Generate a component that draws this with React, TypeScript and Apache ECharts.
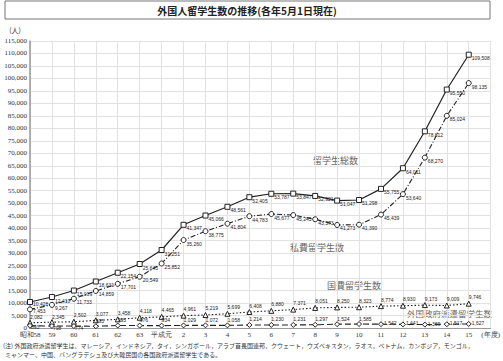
import React, { useEffect, useRef } from "react";
import * as echarts from "echarts";

const categories = ["昭和58", "59", "60", "61", "62", "63", "平成元", "2", "3", "4", "5", "6", "7", "8", "9", "10", "11", "12", "13", "14", "15", "(年度)"];
const totalValues = [10428, 12410, 15009, 18631, 22154, 25643, 31251, 41347, 45066, 48561, 52405, 53787, 53847, 52921, 51047, 51298, 55755, 64011, 78812, 95550, 109508];
const privateValues = [7453, 9267, 11733, 14859, 17701, 20549, 25852, 35260, 38775, 41804, 44783, 45677, 45245, 43573, 41273, 41390, 45439, 53640, 68270, 85024, 98135];
const govValues = [2082, 2345, 2502, 3077, 3458, 4118, 4465, 4961, 5219, 5699, 6408, 6880, 7371, 8051, 8250, 8323, 8774, 8930, 9173, 9009, 9746];
const foreignGovValues = [893, 798, 774, 695, 995, 976, 934, 1029, 1072, 1058, 1214, 1230, 1231, 1297, 1524, 1585, 1542, 1441, 1369, 1517, 1627];

const seriesNames = ["留学生総数", "私費留学生数", "国費留学生数", "外国政府派遣留学生数"];
const titleText = "外国人留学生数の推移(各年5月1日現在)";
const unitText = "(人)";
const noteLine1 = "(注) 外国政府派遣留学生は、マレーシア，インドネシア，タイ，シンガポール，アラブ首長国連邦，クウェート，ウズベキスタン，ラオス，ベトナム，カンボジア，モンゴル，";
const noteLine2 = "ミャンマー、中国、バングラデシュ及び大韓民国の各国政府派遣留学生である。";

const fmt = (v: number) => v.toLocaleString("en-US");

export default function App() {
  const ref = useRef<HTMLDivElement>(null);
  useEffect(() => {
    if (!ref.current) return;
    const chart = echarts.init(ref.current, null, { renderer: "svg" });
    const labelBase = {
      show: true,
      fontSize: 5,
      fontFamily: "Liberation Sans",
      color: "#222",
      formatter: (p: any) => fmt(p.value),
    };
    const mk = (name: string, data: any[], symbol: string, lineType: any, labelPos: any, width = 1.1) => ({
      name,
      type: "line",
      data,
      symbol,
      symbolSize: 5,
      showAllSymbol: true,
      lineStyle: { color: "#222", width, type: lineType },
      itemStyle: { color: "#fff", borderColor: "#222", borderWidth: 1 },
      label: { ...labelBase, position: labelPos },
      z: 3,
    });
    const totalData = totalValues.map((v, i) => (i === 0 ? { value: v, label: { position: [6, 3] } } : { value: v }));
    const privateData = privateValues.map((v, i) => (i === 0 ? { value: v, label: { position: [6, 2] } } : { value: v }));
    const govData = govValues.map((v, i) => (i < 2 ? { value: v, label: { position: [3, -5] } } : { value: v }));
    const foreignData = foreignGovValues.map((v, i) => {
      if (i < 3) return { value: v, label: { position: [4, 2] } };
      if (i >= 16) return { value: v, label: { position: [6, -0.5] } };
      return { value: v };
    });
    chart.setOption({
      animation: false,
      backgroundColor: "#fff",
      grid: { left: 30, right: 11, top: 41, bottom: 33, containLabel: false },
      xAxis: {
        type: "category",
        data: categories,
        boundaryGap: false,
        axisLine: { lineStyle: { color: "#999" } },
        axisTick: { show: false },
        axisLabel: { fontSize: 7, color: "#333", fontFamily: "Liberation Serif", margin: 3.5, interval: 0 },
        splitLine: { show: true, lineStyle: { color: "#e2e2e2", width: 1 } },
      },
      yAxis: {
        type: "value",
        min: 0,
        max: 115000,
        interval: 5000,
        axisLine: { show: true, lineStyle: { color: "#999", width: 1.5 } },
        axisTick: { show: false },
        axisLabel: { fontSize: 7, color: "#333", fontFamily: "Liberation Serif", margin: 3, formatter: (v: number) => fmt(v) },
        splitLine: { show: true, lineStyle: { color: "#e2e2e2", width: 1 } },
      },
      series: [
        mk(seriesNames[0], totalData, "rect", "solid", [6, 4], 1.2),
        mk(seriesNames[1], privateData, "circle", [5, 2, 1, 2], [6, 4]),
        mk(seriesNames[2], govData, "triangle", [1.5, 2], [3, -6]),
        mk(seriesNames[3], foreignData, "diamond", [6, 3], [3, -5]),
      ],
      graphic: [
        { type: "rect", shape: { x: 5, y: 1, width: 485, height: 18 }, style: { fill: "none", stroke: "#777", lineWidth: 1 } },
        { type: "text", x: 247, y: 10, style: { text: titleText, font: "bold 10px 'Noto Sans CJK JP'", fill: "#222", align: "center", verticalAlign: "middle" } },
        { type: "text", x: 15, y: 30, style: { text: unitText, font: "7px 'Noto Sans CJK JP'", fill: "#333", align: "center", verticalAlign: "middle" } },
        { type: "text", x: 313, y: 160, style: { text: seriesNames[0], font: "9px 'Noto Sans CJK JP'", fill: "#666", verticalAlign: "middle" } },
        { type: "text", x: 290, y: 247, style: { text: seriesNames[1], font: "9px 'Noto Sans CJK JP'", fill: "#666", verticalAlign: "middle" } },
        { type: "text", x: 327, y: 285, style: { text: seriesNames[2], font: "9px 'Noto Sans CJK JP'", fill: "#666", verticalAlign: "middle" } },
        { type: "text", x: 407, y: 313, style: { text: seriesNames[3], font: "8.5px 'Noto Sans CJK JP'", fill: "#666", verticalAlign: "middle" } },
        { type: "text", x: 3, y: 345, style: { text: noteLine1, font: "6px 'Noto Sans CJK JP'", fill: "#333", verticalAlign: "middle" } },
        { type: "text", x: 5, y: 354, style: { text: noteLine2, font: "6px 'Noto Sans CJK JP'", fill: "#333", verticalAlign: "middle" } },
      ],
    });
    return () => chart.dispose();
  }, []);
  return <div ref={ref} style={{ width: 503, height: 361, position: "absolute", left: 0, top: 0 }} />;
}
